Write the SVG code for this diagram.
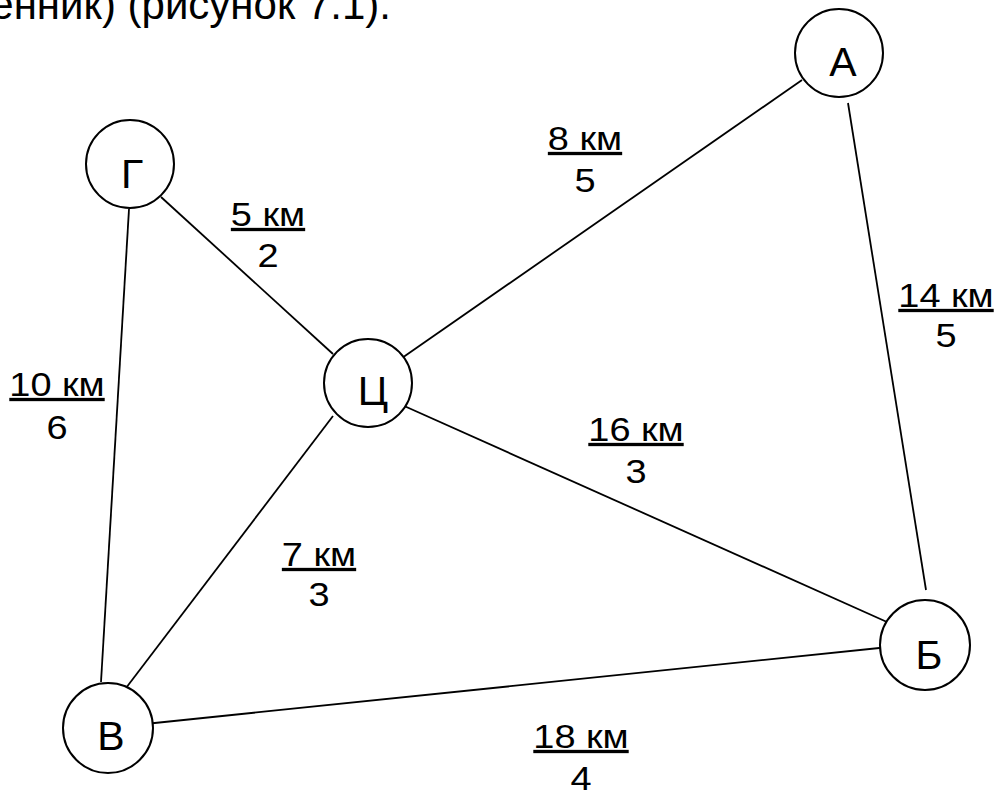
<svg xmlns="http://www.w3.org/2000/svg" width="996" height="790" viewBox="0 0 996 790">
<style>
.node circle{fill:#fff;stroke:#000;stroke-width:2}
.node text{font-family:"Liberation Sans",Arial,sans-serif;font-size:41px;text-anchor:middle;fill:#000}
#connectors line{stroke:#000;stroke-width:1.8}
.lbl text{font-family:"Liberation Sans",Arial,sans-serif;font-size:33px;text-anchor:middle;fill:#000}
.u{text-decoration:underline}
.cap{font-family:"Liberation Sans",Arial,sans-serif;font-size:42px;fill:#000}
</style>
<rect width="996" height="790" fill="#fff"/>
<text class="cap" x="391" y="19" text-anchor="end">енник) (рисунок 7.1).</text>
<g id="connectors">
<line x1="161" y1="197" x2="333" y2="354"/>
<line x1="129" y1="209" x2="101" y2="682"/>
<line x1="402" y1="358" x2="802" y2="80"/>
<line x1="848" y1="103" x2="926" y2="590"/>
<line x1="402" y1="405" x2="887" y2="622"/>
<line x1="333" y1="416" x2="126" y2="688"/>
<line x1="145" y1="724" x2="889" y2="647"/>
</g>
<g id="labels" class="lbl">
<g transform="translate(585,0) scale(1.15,1)"><text class="u" x="0" y="150">8 км</text><text x="0" y="192">5</text></g>
<g transform="translate(268,0) scale(1.15,1)"><text class="u" x="0" y="226">5 км</text><text x="0" y="267">2</text></g>
<g transform="translate(946,0) scale(1.15,1)"><text class="u" x="0" y="307">14 км</text><text x="0" y="347">5</text></g>
<g transform="translate(57,0) scale(1.15,1)"><text class="u" x="0" y="396">10 км</text><text x="0" y="439">6</text></g>
<g transform="translate(636,0) scale(1.15,1)"><text class="u" x="0" y="441">16 км</text><text x="0" y="483">3</text></g>
<g transform="translate(319,0) scale(1.15,1)"><text class="u" x="0" y="566">7 км</text><text x="0" y="606">3</text></g>
<g transform="translate(581,0) scale(1.15,1)"><text class="u" x="0" y="748">18 км</text><text x="0" y="790">4</text></g>
</g>
<g id="node-A" class="node"><circle cx="839" cy="53" r="44"/><text x="843" y="76">А</text></g>
<g id="node-G" class="node"><circle cx="130" cy="164" r="44"/><text x="132" y="188">Г</text></g>
<g id="node-C" class="node"><circle cx="368" cy="383" r="44"/><text x="373" y="405">Ц</text></g>
<g id="node-B" class="node"><circle cx="925" cy="645" r="45"/><text x="929" y="669">Б</text></g>
<g id="node-V" class="node"><circle cx="108" cy="728" r="45"/><text x="111" y="750">В</text></g>
</svg>
